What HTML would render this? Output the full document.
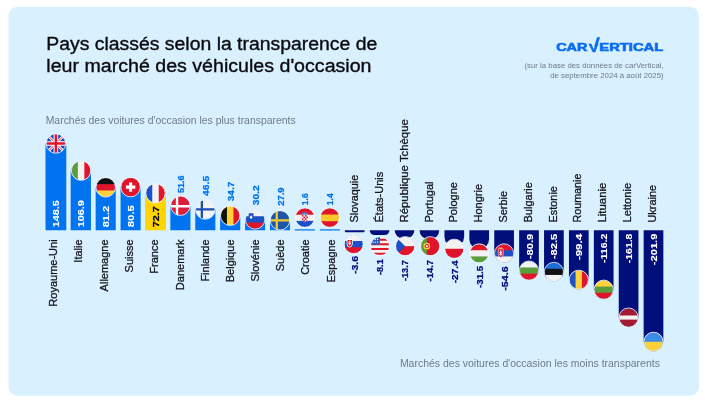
<!DOCTYPE html>
<html lang="fr"><head><meta charset="utf-8">
<title>Pays classés selon la transparence de leur marché des véhicules d'occasion</title>
<style>
html,body{margin:0;padding:0;background:#fff;}
body{width:705px;height:402px;overflow:hidden;position:relative;font-family:"Liberation Sans",sans-serif;}
svg{position:absolute;left:0;top:0;display:block;}
svg text{font-family:"Liberation Sans",sans-serif;}
.ttl{font-size:18px;fill:#0b0b0f;stroke:#0b0b0f;stroke-width:.35px;}
.sub{font-size:6.8px;fill:#6f7b88;}
.cap{font-size:10px;fill:#6f7b88;}
.lbl{font-size:11px;fill:#14141c;stroke:#14141c;stroke-width:.28px;}
.val{font-size:9.7px;font-weight:700;stroke-width:.25px;}.vw{font-size:9.6px;stroke-width:.1px;}
.logo{font-size:11.3px;font-weight:700;fill:#0b6cf0;stroke:#0b6cf0;stroke-width:.62px;}
</style></head><body>
<svg width="705" height="402" viewBox="0 0 705 402">
<defs><clipPath id="cc"><circle cx="10" cy="10" r="10"/></clipPath>
<g id="f-gb" clip-path="url(#cc)"><rect width="20" height="20" fill="#1a47b8"/><path d="M0 0L20 20M20 0L0 20" stroke="#fff" stroke-width="2.700"/><path d="M0 0L20 20M20 0L0 20" stroke="#e0152b" stroke-width="1"/><path d="M10 0V20M0 10H20" stroke="#fff" stroke-width="4.800"/><path d="M10 0V20M0 10H20" stroke="#e0152b" stroke-width="2.700"/></g>
<g id="f-it" clip-path="url(#cc)"><rect width="20" height="20" fill="#f2f2f2"/><rect width="6.6" height="20" fill="#5a9e3c"/><rect x="13.4" width="6.6" height="20" fill="#e0152b"/></g>
<g id="f-de" clip-path="url(#cc)"><rect width="20" height="20" fill="#e0152b"/><rect width="20" height="6.7" fill="#111"/><rect y="13.3" width="20" height="6.7" fill="#ffd23c"/></g>
<g id="f-ch" clip-path="url(#cc)"><rect width="20" height="20" fill="#e0152b"/><path d="M10 5.1V14.9M5.1 10H14.9" stroke="#fff" stroke-width="3.2"/></g>
<g id="f-fr" clip-path="url(#cc)"><rect width="20" height="20" fill="#f2f2f2"/><rect width="6.6" height="20" fill="#1c50c8"/><rect x="13.4" width="6.6" height="20" fill="#e0152b"/></g>
<g id="f-dk" clip-path="url(#cc)"><rect width="20" height="20" fill="#dc1f3a"/><path d="M6.5 0V20M0 10.5H20" stroke="#fff" stroke-width="2.5"/></g>
<g id="f-fi" clip-path="url(#cc)"><rect width="20" height="20" fill="#f2f2f2"/><path d="M6.4 0V20M0 9.9H20" stroke="#1c4fb4" stroke-width="2.4"/></g>
<g id="f-be" clip-path="url(#cc)"><rect width="20" height="20" fill="#ffd23c"/><rect width="6.6" height="20" fill="#111"/><rect x="13.4" width="6.6" height="20" fill="#e0152b"/></g>
<g id="f-si" clip-path="url(#cc)"><rect width="20" height="20" fill="#1c50c8"/><rect width="20" height="6.7" fill="#f2f2f2"/><rect y="13.3" width="20" height="6.7" fill="#e0152b"/><path d="M3.3 3.700h5v3.800c0 1.500-1.100 2.400-2.500 3c-1.400-.6-2.500-1.500-2.500-3z" fill="#1c50c8"/><path d="M4.100 8l1.700-2.200l1.700 2.200l-1.700 1.600z" fill="#fff"/></g>
<g id="f-se" clip-path="url(#cc)"><rect width="20" height="20" fill="#1d55a8"/><path d="M6.6 0V20M0 10.1H20" stroke="#f7c82e" stroke-width="2.4"/></g>
<g id="f-hr" clip-path="url(#cc)"><rect width="20" height="20" fill="#f2f2f2"/><rect width="20" height="7" fill="#e0152b"/><rect y="13.4" width="20" height="6.600" fill="#1c50c8"/><path d="M6.800 7l.3-2.600l1.400.7l1.500-1l1.500 1l1.400-.7l.3 2.600z" fill="#3f8fe8"/><path d="M6.800 7h6.400v4c0 1.800-1.500 2.800-3.200 3.300c-1.700-.5-3.200-1.500-3.200-3.300z" fill="#fff"/><path d="M6.800 7h1.600v1.800h-1.600zM10 7h1.600v1.800h-1.600zM8.400 8.800h1.600v1.800h-1.600zM11.600 8.800h1.600v1.800h-1.600zM6.800 10.600h1.600v1.800h-1.400zM10 10.600h1.600v1.800h-1.600zM8.400 12.400h1.600v1.800l-1.600-.7zM11.600 12.400h1.200l-1.200 1.100z" fill="#e0152b"/></g>
<g id="f-es" clip-path="url(#cc)"><rect width="20" height="20" fill="#ffc72e"/><rect width="20" height="6.8" fill="#e0152b"/><rect y="13.8" width="20" height="6.2" fill="#e0152b"/></g>
<g id="f-sk" clip-path="url(#cc)"><rect width="20" height="20" fill="#1c50c8"/><rect width="20" height="6.700" fill="#f2f2f2"/><rect y="13.300" width="20" height="6.700" fill="#e0152b"/><path d="M2.600 4.800h6.400v5c0 2.200-1.600 3.500-3.200 4.200c-1.600-.7-3.200-2-3.200-4.200z" fill="#fff"/><path d="M3.400 5.600h4.800v4.200c0 1.600-1.200 2.700-2.400 3.300c-1.200-.6-2.400-1.700-2.400-3.300z" fill="#e0152b"/><path d="M5.800 6.400v5M4.600 7.700h2.400M4.300 9.300h3" stroke="#fff" stroke-width=".9"/></g>
<g id="f-us" clip-path="url(#cc)"><rect width="20" height="20" fill="#f2f2f2"/><path d="M0 3.2H20M0 8H20M0 13H20M0 18.1H20" stroke="#e0152b" stroke-width="2.2"/><rect width="10" height="8.4" fill="#2a5cc0"/><path d="M2.6 2.9h.1M5 2.9h.1M7.400 2.900h.1M2.600 5.800h.1M5 5.800h.1M7.400 5.800h.1" stroke="#fff" stroke-width="1.300" stroke-linecap="round"/></g>
<g id="f-cz" clip-path="url(#cc)"><rect width="20" height="20" fill="#e0152b"/><rect width="20" height="10" fill="#f2f2f2"/><path d="M0 0L10 10L0 20z" fill="#1c50c8"/></g>
<g id="f-pt" clip-path="url(#cc)"><rect width="20" height="20" fill="#e0152b"/><rect width="6.500" height="20" fill="#5a9e3c"/><circle cx="6.500" cy="10" r="3.500" fill="#ffd23c"/><circle cx="6.500" cy="10" r="2.300" fill="#e0152b"/><rect x="5.400" y="9" width="2.200" height="2.200" rx=".6" fill="#fff"/></g>
<g id="f-pl" clip-path="url(#cc)"><rect width="20" height="20" fill="#e0152b"/><rect width="20" height="10" fill="#f2f2f2"/></g>
<g id="f-hu" clip-path="url(#cc)"><rect width="20" height="20" fill="#f2f2f2"/><rect width="20" height="6.700" fill="#e0152b"/><rect y="13.300" width="20" height="6.700" fill="#5a9e3c"/></g>
<g id="f-rs" clip-path="url(#cc)"><rect width="20" height="20" fill="#1c50c8"/><rect width="20" height="6.700" fill="#e0152b"/><rect y="13.300" width="20" height="6.700" fill="#f2f2f2"/><path d="M3.800 5.200h5.400v5.600c0 1.800-1.300 3-2.700 3.600c-1.400-.6-2.700-1.800-2.700-3.600z" fill="#e0152b" stroke="#fff" stroke-width=".5"/><path d="M6.500 6.800v5.600M5 8.400l1.500 1.500l1.500-1.500M5 11.600l1.500-1.500l1.500 1.500" stroke="#fff" stroke-width="1" fill="none"/><path d="M4.800 5.200l.5-2l1.200 1.100l1.200-1.100l.5 2z" fill="#ffd23c"/></g>
<g id="f-bg" clip-path="url(#cc)"><rect width="20" height="20" fill="#5a9e3c"/><rect width="20" height="6.700" fill="#f2f2f2"/><rect y="13.300" width="20" height="6.700" fill="#e0152b"/></g>
<g id="f-ee" clip-path="url(#cc)"><rect width="20" height="20" fill="#111"/><rect width="20" height="6.700" fill="#1c6fd8"/><rect y="13.300" width="20" height="6.700" fill="#f2f2f2"/></g>
<g id="f-ro" clip-path="url(#cc)"><rect width="20" height="20" fill="#ffd23c"/><rect width="6.600" height="20" fill="#1c50c8"/><rect x="13.400" width="6.600" height="20" fill="#e0152b"/></g>
<g id="f-lt" clip-path="url(#cc)"><rect width="20" height="20" fill="#5a9e3c"/><rect width="20" height="6.700" fill="#ffd23c"/><rect y="13.300" width="20" height="6.700" fill="#e0152b"/></g>
<g id="f-lv" clip-path="url(#cc)"><rect width="20" height="20" fill="#a31a32"/><rect y="7.800" width="20" height="4.400" fill="#f2f2f2"/></g>
<g id="f-ua" clip-path="url(#cc)"><rect width="20" height="20" fill="#ffd23c"/><rect width="20" height="10" fill="#3d8be8"/></g>
</defs>
<rect x="8.5" y="6.8" width="690.6" height="388.9" rx="9" ry="9" fill="#d9f0ff"/>
<text class="ttl" x="46.3" y="49.6" textLength="331" lengthAdjust="spacingAndGlyphs">Pays classés selon la transparence de</text>
<text class="ttl" x="46.3" y="72" textLength="325.2" lengthAdjust="spacingAndGlyphs">leur marché des véhicules d'occasion</text>
<g class="logo"><text x="556.2" y="51.4" textLength="31.2" lengthAdjust="spacingAndGlyphs">CAR</text><g transform="translate(594 51.5) skewX(4.3) scale(1.2 1.03)"><text x="0" y="0" text-anchor="middle">V</text></g><text x="599.3" y="51.4" textLength="63.9" lengthAdjust="spacingAndGlyphs">ERTICAL</text><path d="M594.5 46H597.2L599.9 37.2H597.1z" stroke-width=".2"/></g>
<text class="sub" x="524.5" y="68" textLength="139.2" lengthAdjust="spacingAndGlyphs">(sur la base des données de carVertical,</text>
<text class="sub" x="550.2" y="78.2" textLength="113.5" lengthAdjust="spacingAndGlyphs">de septembre 2024 à août 2025)</text>
<text class="cap" x="45.7" y="123.7" textLength="250" lengthAdjust="spacingAndGlyphs">Marchés des voitures d'occasion les plus transparents</text>
<text class="cap" x="399.9" y="366.9" textLength="260" lengthAdjust="spacingAndGlyphs">Marchés des voitures d'occasion les moins transparents</text>
<path d="M45.5 230.2V145.56A10.4 10.4 0 0 1 55.9 135.16H55.9A10.4 10.4 0 0 1 66.3 145.56V230.2z" fill="#0074f0"/>
<use href="#f-gb" transform="translate(46.3 133.9) scale(0.96)"/>
<circle cx="55.9" cy="143.5" r="9.75" fill="none" stroke="#eef8ff" stroke-opacity=".85" stroke-width="1"/>
<text class="lbl" transform="translate(57.1 239.4) rotate(-90)" text-anchor="end">Royaume-Uni</text>
<text class="val vw" fill="#fff" stroke="#fff" transform="translate(58.7 227.3) rotate(-90)" textLength="27.1" lengthAdjust="spacingAndGlyphs">148.5</text>
<path d="M70.65 230.2V171.93A10.15 10.15 0 0 1 80.8 161.78H80.8A10.15 10.15 0 0 1 90.95 171.93V230.2z" fill="#0074f0"/>
<use href="#f-it" transform="translate(71.5 161) scale(0.96)"/>
<circle cx="81.1" cy="170.6" r="9.75" fill="none" stroke="#eef8ff" stroke-opacity=".85" stroke-width="1"/>
<text class="lbl" transform="translate(82.3 239.4) rotate(-90)" text-anchor="end">Italie</text>
<text class="val vw" fill="#fff" stroke="#fff" transform="translate(84 227.3) rotate(-90)" textLength="27.1" lengthAdjust="spacingAndGlyphs">106.9</text>
<path d="M95.65 230.2V188.28A10.05 10.05 0 0 1 105.7 178.23H105.7A10.05 10.05 0 0 1 115.75 188.28V230.2z" fill="#0074f0"/>
<use href="#f-de" transform="translate(96.1 177.7) scale(0.96)"/>
<circle cx="105.7" cy="187.3" r="9.75" fill="none" stroke="#eef8ff" stroke-opacity=".85" stroke-width="1"/>
<text class="lbl" transform="translate(107.9 239.4) rotate(-90)" text-anchor="end">Allemagne</text>
<text class="val vw" fill="#fff" stroke="#fff" transform="translate(108.9 227.3) rotate(-90)" textLength="21.5" lengthAdjust="spacingAndGlyphs">81.2</text>
<path d="M120.55 230.2V188.73A10.05 10.05 0 0 1 130.6 178.68H130.6A10.05 10.05 0 0 1 140.65 188.73V230.2z" fill="#0074f0"/>
<use href="#f-ch" transform="translate(121 177.5) scale(0.96)"/>
<circle cx="130.6" cy="187.1" r="9.75" fill="none" stroke="#eef8ff" stroke-opacity=".85" stroke-width="1"/>
<text class="lbl" transform="translate(133.4 239.4) rotate(-90)" text-anchor="end">Suisse</text>
<text class="val vw" fill="#fff" stroke="#fff" transform="translate(133.8 227.3) rotate(-90)" textLength="22.2" lengthAdjust="spacingAndGlyphs">80.5</text>
<path d="M145.05 230.2V194.12A10.45 10.45 0 0 1 155.5 183.67H155.5A10.45 10.45 0 0 1 165.95 194.12V230.2z" fill="#ffd500"/>
<use href="#f-fr" transform="translate(145.9 183.7) scale(0.96)"/>
<circle cx="155.5" cy="193.3" r="9.75" fill="none" stroke="#eef8ff" stroke-opacity=".85" stroke-width="1"/>
<text class="lbl" transform="translate(158.3 239.4) rotate(-90)" text-anchor="end">France</text>
<text class="val" fill="#000" stroke="#000" transform="translate(159 227.3) rotate(-90)" textLength="21.1" lengthAdjust="spacingAndGlyphs">72.7</text>
<path d="M170.35 230.2V207.23A10.05 10.05 0 0 1 180.4 197.18H180.4A10.05 10.05 0 0 1 190.45 207.23V230.2z" fill="#0074f0"/>
<use href="#f-dk" transform="translate(170.8 196.1) scale(0.96)"/>
<circle cx="180.4" cy="205.7" r="9.75" fill="none" stroke="#eef8ff" stroke-opacity=".85" stroke-width="1"/>
<text class="lbl" transform="translate(183.5 239.4) rotate(-90)" text-anchor="end">Danemark</text>
<text class="val" fill="#0074f0" stroke="#0074f0" transform="translate(183.9 193.1) rotate(-90)" textLength="17.6" lengthAdjust="spacingAndGlyphs">51.6</text>
<path d="M195.25 230.2V210.49A10.05 10.05 0 0 1 205.3 200.44H205.3A10.05 10.05 0 0 1 215.35 210.49V230.2z" fill="#0074f0"/>
<use href="#f-fi" transform="translate(195.7 199.9) scale(0.96)"/>
<circle cx="205.3" cy="209.5" r="9.75" fill="none" stroke="#eef8ff" stroke-opacity=".85" stroke-width="1"/>
<text class="lbl" transform="translate(208.7 239.4) rotate(-90)" text-anchor="end">Finlande</text>
<text class="val" fill="#0074f0" stroke="#0074f0" transform="translate(208.8 195.9) rotate(-90)" textLength="20" lengthAdjust="spacingAndGlyphs">46.5</text>
<path d="M220.15 230.2V218.04A10.05 10.05 0 0 1 230.2 207.99H230.2A10.05 10.05 0 0 1 240.25 218.04V230.2z" fill="#0074f0"/>
<use href="#f-be" transform="translate(220.6 206.1) scale(0.96)"/>
<circle cx="230.2" cy="215.7" r="9.75" fill="none" stroke="#eef8ff" stroke-opacity=".85" stroke-width="1"/>
<text class="lbl" transform="translate(233.7 239.4) rotate(-90)" text-anchor="end">Belgique</text>
<text class="val" fill="#0074f0" stroke="#0074f0" transform="translate(233.7 201.3) rotate(-90)" textLength="19.8" lengthAdjust="spacingAndGlyphs">34.7</text>
<path d="M245.05 230.2V220.92A10.05 10.05 0 0 1 255.1 210.87H255.1A10.05 10.05 0 0 1 265.15 220.92V230.2z" fill="#0074f0"/>
<use href="#f-si" transform="translate(245.5 209.8) scale(0.96)"/>
<circle cx="255.1" cy="219.4" r="9.75" fill="none" stroke="#eef8ff" stroke-opacity=".85" stroke-width="1"/>
<text class="lbl" transform="translate(258.9 239.4) rotate(-90)" text-anchor="end">Slovénie</text>
<text class="val" fill="#0074f0" stroke="#0074f0" transform="translate(258.6 205.2) rotate(-90)" textLength="19.8" lengthAdjust="spacingAndGlyphs">30.2</text>
<path d="M269.95 230.2V222.39A10.05 10.05 0 0 1 280 212.34H280A10.05 10.05 0 0 1 290.05 222.39V230.2z" fill="#0074f0"/>
<use href="#f-se" transform="translate(270.4 210.7) scale(0.96)"/>
<circle cx="280" cy="220.3" r="9.75" fill="none" stroke="#eef8ff" stroke-opacity=".85" stroke-width="1"/>
<text class="lbl" transform="translate(284.05 239.4) rotate(-90)" text-anchor="end">Suède</text>
<text class="val" fill="#0074f0" stroke="#0074f0" transform="translate(283.5 205.8) rotate(-90)" textLength="18.4" lengthAdjust="spacingAndGlyphs">27.9</text>
<rect x="294.85" y="229" width="20.1" height="1.7" fill="#0074f0" opacity=".72"/>
<use href="#f-hr" transform="translate(295.3 208) scale(0.96)"/>
<circle cx="304.9" cy="217.6" r="9.75" fill="none" stroke="#eef8ff" stroke-opacity=".85" stroke-width="1"/>
<text class="lbl" transform="translate(309.2 239.4) rotate(-90)" text-anchor="end">Croatie</text>
<text class="val" fill="#0074f0" stroke="#0074f0" transform="translate(308.4 205.2) rotate(-90)" textLength="11.8" lengthAdjust="spacingAndGlyphs">1.6</text>
<rect x="319.75" y="229" width="20.1" height="1.7" fill="#0074f0" opacity=".72"/>
<use href="#f-es" transform="translate(320.2 208) scale(0.96)"/>
<circle cx="329.8" cy="217.6" r="9.75" fill="none" stroke="#eef8ff" stroke-opacity=".85" stroke-width="1"/>
<text class="lbl" transform="translate(334.5 239.4) rotate(-90)" text-anchor="end" textLength="43" lengthAdjust="spacingAndGlyphs">Espagne</text>
<text class="val" fill="#0074f0" stroke="#0074f0" transform="translate(333.3 205.2) rotate(-90)" textLength="11.8" lengthAdjust="spacingAndGlyphs">1.4</text>
<path d="M344.85 230.2V231.36A1 1 0 0 0 345.85 232.36H363.55A1 1 0 0 0 364.55 231.36V230.2z" fill="#000f7a"/>
<use href="#f-sk" transform="translate(344.25 234.65) scale(0.94)"/>
<circle cx="353.7" cy="244.1" r="9.6" fill="none" stroke="#eef8ff" stroke-opacity=".85" stroke-width="1"/>
<text class="lbl" transform="translate(358.4 222.5) rotate(-90)" textLength="47.8" lengthAdjust="spacingAndGlyphs">Slovaquie</text>
<text class="val" fill="#000f7a" stroke="#000f7a" transform="translate(358.2 274.05) rotate(-90)" textLength="18.1" lengthAdjust="spacingAndGlyphs">-3.6</text>
<path d="M369.75 230.2V230.2A4.86 4.86 0 0 0 374.61 235.06H384.59A4.86 4.86 0 0 0 389.45 230.2V230.2z" fill="#000f7a"/>
<use href="#f-us" transform="translate(370.55 236.75) scale(0.94)"/>
<circle cx="380" cy="246.2" r="9.6" fill="none" stroke="#eef8ff" stroke-opacity=".85" stroke-width="1"/>
<text class="lbl" transform="translate(383.3 222.5) rotate(-90)">États-Unis</text>
<text class="val" fill="#000f7a" stroke="#000f7a" transform="translate(383.1 275.05) rotate(-90)" textLength="15.8" lengthAdjust="spacingAndGlyphs">-8.1</text>
<path d="M394.65 230.2V230.2A8.22 8.22 0 0 0 402.87 238.42H406.13A8.22 8.22 0 0 0 414.35 230.2V230.2z" fill="#000f7a"/>
<use href="#f-cz" transform="translate(395.75 236.75) scale(0.94)"/>
<circle cx="405.2" cy="246.2" r="9.6" fill="none" stroke="#eef8ff" stroke-opacity=".85" stroke-width="1"/>
<text class="lbl" transform="translate(407.75 222.5) rotate(-90)" textLength="103.3" lengthAdjust="spacingAndGlyphs">République Tchèque</text>
<text class="val" fill="#000f7a" stroke="#000f7a" transform="translate(408 281.05) rotate(-90)" textLength="20.8" lengthAdjust="spacingAndGlyphs">-13.7</text>
<path d="M419.55 230.2V230.2A8.82 8.82 0 0 0 428.37 239.02H430.43A8.82 8.82 0 0 0 439.25 230.2V230.2z" fill="#000f7a"/>
<use href="#f-pt" transform="translate(420.75 236.75) scale(0.94)"/>
<circle cx="430.2" cy="246.2" r="9.6" fill="none" stroke="#eef8ff" stroke-opacity=".85" stroke-width="1"/>
<text class="lbl" transform="translate(432.65 222.5) rotate(-90)">Portugal</text>
<text class="val" fill="#000f7a" stroke="#000f7a" transform="translate(432.9 281.45) rotate(-90)" textLength="21.6" lengthAdjust="spacingAndGlyphs">-14.7</text>
<path d="M444.45 230.2V236.79A9.85 9.85 0 0 0 454.3 246.64H454.3A9.85 9.85 0 0 0 464.15 236.79V230.2z" fill="#000f7a"/>
<use href="#f-pl" transform="translate(444.85 239.35) scale(0.94)"/>
<circle cx="454.3" cy="248.8" r="9.6" fill="none" stroke="#eef8ff" stroke-opacity=".85" stroke-width="1"/>
<text class="lbl" transform="translate(457.25 222.5) rotate(-90)">Pologne</text>
<text class="val" fill="#000f7a" stroke="#000f7a" transform="translate(457.8 283.25) rotate(-90)" textLength="22.8" lengthAdjust="spacingAndGlyphs">-27.4</text>
<path d="M469.35 230.2V239.25A9.85 9.85 0 0 0 479.2 249.1H479.2A9.85 9.85 0 0 0 489.05 239.25V230.2z" fill="#000f7a"/>
<use href="#f-hu" transform="translate(469.75 243.95) scale(0.94)"/>
<circle cx="479.2" cy="253.4" r="9.6" fill="none" stroke="#eef8ff" stroke-opacity=".85" stroke-width="1"/>
<text class="lbl" transform="translate(482 222.5) rotate(-90)">Hongrie</text>
<text class="val" fill="#000f7a" stroke="#000f7a" transform="translate(482.7 288.05) rotate(-90)" textLength="22.3" lengthAdjust="spacingAndGlyphs">-31.5</text>
<path d="M494.25 230.2V253.15A9.85 9.85 0 0 0 504.1 263H504.1A9.85 9.85 0 0 0 513.95 253.15V230.2z" fill="#000f7a"/>
<use href="#f-rs" transform="translate(494.65 243.95) scale(0.94)"/>
<circle cx="504.1" cy="253.4" r="9.6" fill="none" stroke="#eef8ff" stroke-opacity=".85" stroke-width="1"/>
<text class="lbl" transform="translate(506.7 222.5) rotate(-90)" textLength="31.6" lengthAdjust="spacingAndGlyphs">Serbie</text>
<text class="val" fill="#000f7a" stroke="#000f7a" transform="translate(507.6 290.75) rotate(-90)" textLength="24.4" lengthAdjust="spacingAndGlyphs">-54.6</text>
<path d="M519.15 230.2V270.35A9.85 9.85 0 0 0 529 280.2H529A9.85 9.85 0 0 0 538.85 270.35V230.2z" fill="#000f7a"/>
<use href="#f-bg" transform="translate(519.55 261.15) scale(0.94)"/>
<circle cx="529" cy="270.6" r="9.6" fill="none" stroke="#eef8ff" stroke-opacity=".85" stroke-width="1"/>
<text class="lbl" transform="translate(531.6 222.5) rotate(-90)">Bulgarie</text>
<text class="val vw" fill="#fff" stroke="#fff" transform="translate(532.5 259.15) rotate(-90)" textLength="25.5" lengthAdjust="spacingAndGlyphs">-80.9</text>
<path d="M544.05 230.2V271.65A9.85 9.85 0 0 0 553.9 281.5H553.9A9.85 9.85 0 0 0 563.75 271.65V230.2z" fill="#000f7a"/>
<use href="#f-ee" transform="translate(544.45 262.45) scale(0.94)"/>
<circle cx="553.9" cy="271.9" r="9.6" fill="none" stroke="#eef8ff" stroke-opacity=".85" stroke-width="1"/>
<text class="lbl" transform="translate(556.5 222.5) rotate(-90)" textLength="36.4" lengthAdjust="spacingAndGlyphs">Estonie</text>
<text class="val vw" fill="#fff" stroke="#fff" transform="translate(557.4 259.15) rotate(-90)" textLength="25.5" lengthAdjust="spacingAndGlyphs">-82.5</text>
<path d="M568.95 230.2V279.55A9.85 9.85 0 0 0 578.8 289.4H578.8A9.85 9.85 0 0 0 588.65 279.55V230.2z" fill="#000f7a"/>
<use href="#f-ro" transform="translate(569.35 270.35) scale(0.94)"/>
<circle cx="578.8" cy="279.8" r="9.6" fill="none" stroke="#eef8ff" stroke-opacity=".85" stroke-width="1"/>
<text class="lbl" transform="translate(581.4 222.5) rotate(-90)" textLength="48.9" lengthAdjust="spacingAndGlyphs">Roumanie</text>
<text class="val vw" fill="#fff" stroke="#fff" transform="translate(582.3 260.25) rotate(-90)" textLength="26.6" lengthAdjust="spacingAndGlyphs">-99.4</text>
<path d="M593.85 230.2V289.45A9.85 9.85 0 0 0 603.7 299.3H603.7A9.85 9.85 0 0 0 613.55 289.45V230.2z" fill="#000f7a"/>
<use href="#f-lt" transform="translate(594.25 280.25) scale(0.94)"/>
<circle cx="603.7" cy="289.7" r="9.6" fill="none" stroke="#eef8ff" stroke-opacity=".85" stroke-width="1"/>
<text class="lbl" transform="translate(606.3 222.5) rotate(-90)" textLength="39.8" lengthAdjust="spacingAndGlyphs">Lituanie</text>
<text class="val vw" fill="#fff" stroke="#fff" transform="translate(607.2 262.95) rotate(-90)" textLength="29.3" lengthAdjust="spacingAndGlyphs">-116.2</text>
<path d="M618.75 230.2V317.35A9.85 9.85 0 0 0 628.6 327.2H628.6A9.85 9.85 0 0 0 638.45 317.35V230.2z" fill="#000f7a"/>
<use href="#f-lv" transform="translate(619.15 308.15) scale(0.94)"/>
<circle cx="628.6" cy="317.6" r="9.6" fill="none" stroke="#eef8ff" stroke-opacity=".85" stroke-width="1"/>
<text class="lbl" transform="translate(631.2 222.5) rotate(-90)" textLength="39.7" lengthAdjust="spacingAndGlyphs">Lettonie</text>
<text class="val vw" fill="#fff" stroke="#fff" transform="translate(632.1 263.15) rotate(-90)" textLength="29.5" lengthAdjust="spacingAndGlyphs">-161.8</text>
<path d="M643.65 230.2V341.55A9.85 9.85 0 0 0 653.5 351.4H653.5A9.85 9.85 0 0 0 663.35 341.55V230.2z" fill="#000f7a"/>
<use href="#f-ua" transform="translate(644.05 332.35) scale(0.94)"/>
<circle cx="653.5" cy="341.8" r="9.6" fill="none" stroke="#eef8ff" stroke-opacity=".85" stroke-width="1"/>
<text class="lbl" transform="translate(656.1 222.5) rotate(-90)" textLength="37.5" lengthAdjust="spacingAndGlyphs">Ukraine</text>
<text class="val vw" fill="#fff" stroke="#fff" transform="translate(657 265.15) rotate(-90)" textLength="31.5" lengthAdjust="spacingAndGlyphs">-201.9</text>
</svg>
</body></html>
